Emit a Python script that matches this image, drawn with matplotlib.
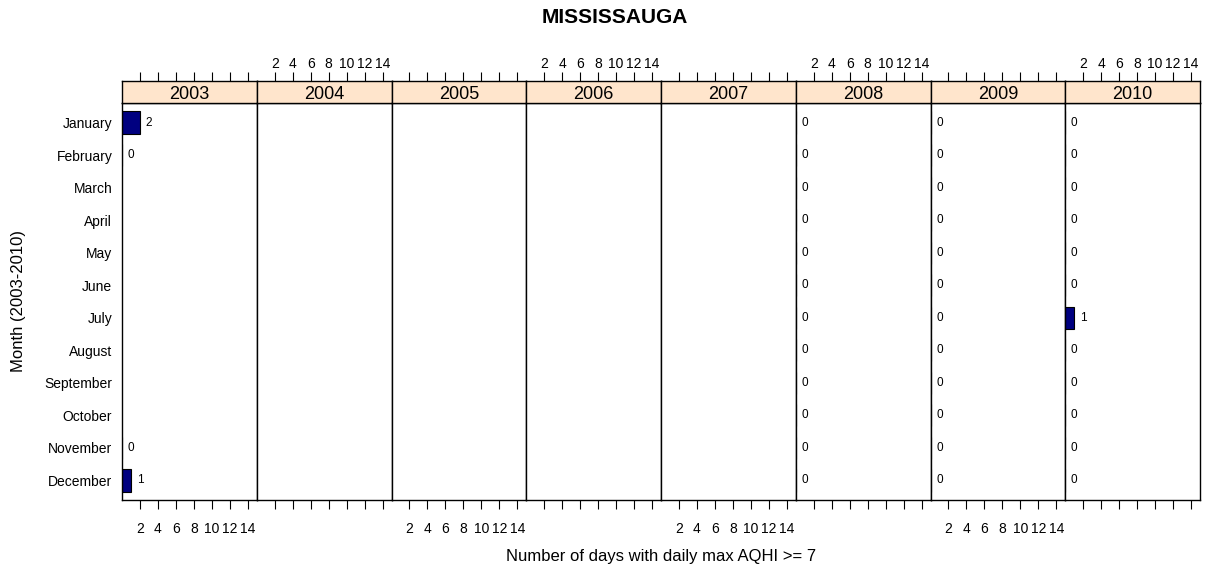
import numpy as np
import matplotlib.pyplot as plt

plt.rcParams['font.family'] = ['Liberation Sans', 'DejaVu Sans']

nan = np.nan

months = ["January", "February", "March", "April", "May", "June", "July",
          "August", "September", "October", "November", "December"]
years = ["2003", "2004", "2005", "2006", "2007", "2008", "2009", "2010"]

# number of days per month (nan = no data)
days_2003 = [2, 0, nan, nan, nan, nan, nan, nan, nan, nan, 0, 1]
days_2004 = [nan] * 12
days_2005 = [nan] * 12
days_2006 = [nan] * 12
days_2007 = [nan] * 12
days_2008 = [0, 0, 0, 0, 0, 0, 0, 0, 0, 0, 0, 0]
days_2009 = [0, 0, 0, 0, 0, 0, 0, 0, 0, 0, 0, 0]
days_2010 = [0, 0, 0, 0, 0, 0, 1, 0, 0, 0, 0, 0]

x_ticks = [2, 4, 6, 8, 10, 12, 14]

counts = [days_2003, days_2004, days_2005, days_2006,
          days_2007, days_2008, days_2009, days_2010]

W, H = 1205, 571
fig = plt.figure(figsize=(W / 100, H / 100), dpi=100)

left, right, top, bottom = 122, 1200, 103, 500
strip_top = 81
pw = (right - left) / len(years)
ypos = np.arange(1, len(months) + 1)

for i, (year, vals) in enumerate(zip(years, counts)):
    x0 = left + i * pw
    ax = fig.add_axes([x0 / W, (H - bottom) / H, pw / W, (bottom - top) / H])
    st = fig.add_axes([x0 / W, (H - top) / H, pw / W, (top - strip_top) / H])

    vals = np.array(vals, dtype=float)
    ok = ~np.isnan(vals)
    ax.barh(ypos[ok], vals[ok], height=0.68, color="#000080",
            edgecolor="black", linewidth=0.8)
    for y, v in zip(ypos[ok], vals[ok]):
        ax.text(v + 1, y, "%d" % v, ha="center", va="center", fontsize=8.5)

    ax.set_xlim(0, 15)
    ax.set_ylim(12.6, 0.4)
    ax.set_xticks(x_ticks)
    ax.tick_params(axis="x", direction="out", length=6.5, width=0.8,
                   labelsize=10, pad=9.5, labelbottom=(i % 2 == 0))
    if i == 0:
        ax.set_yticks(ypos)
        ax.set_yticklabels(months, fontsize=10)
        ax.tick_params(axis="y", length=0, pad=7)
    else:
        ax.set_yticks([])
    for s in ax.spines.values():
        s.set_linewidth(1.0)

    st.set_facecolor("#ffe5cc")
    st.set_xlim(0, 15)
    st.set_yticks([])
    st.set_xticks(x_ticks)
    st.xaxis.tick_top()
    st.tick_params(axis="x", direction="out", length=6.5, width=0.8,
                   labelsize=10, pad=1, labeltop=(i % 2 == 1))
    st.text(0.5, 0.4, year, transform=st.transAxes, ha="center",
            va="center", fontsize=13)
    for s in st.spines.values():
        s.set_linewidth(1.0)

fig.text(615 / W, 1 - 17.5 / H, "MISSISSAUGA", ha="center", va="center",
         fontsize=15, fontweight="bold")
fig.text(661 / W, 1 - 557 / H, "Number of days with daily max AQHI >= 7",
         ha="center", va="center", fontsize=12)
fig.text(19 / W, 1 - 301.5 / H, "Month (2003-2010)", ha="center",
         va="center", rotation=90, fontsize=12)

fig.savefig("out.png", dpi=100)
